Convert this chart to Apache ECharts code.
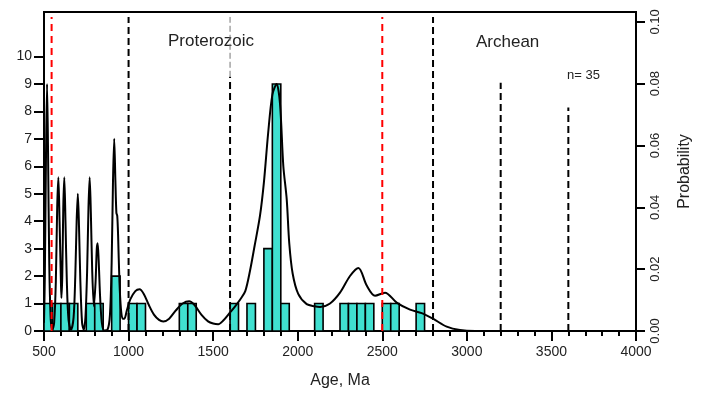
<!DOCTYPE html>
<html>
<head>
<meta charset="utf-8">
<script src="https://cdn.jsdelivr.net/npm/echarts@6/dist/echarts.min.js"></script>
<style>
html,body{margin:0;padding:0;background:#fff;}
#chart{width:704px;height:394px;}
</style>
</head>
<body>
<div id="chart"></div>
<script>
// ---- Data ----
const binWidth = 50;
const binStarts = [500,550,600,650,750,800,900,1000,1050,1300,1350,1600,1700,1800,1850,1900,2100,2250,2300,2350,2400,2500,2550,2700];
const binCounts = [1,1,1,1,1,1,2,1,1,1,1,1,1,3,9,1,1,1,1,1,1,1,1,1];

const curveAges = [500,505,512,518,524,531,540,550,560,570,578,585,592,600,603,608,614,620,627,635,645,660,675,685,693,700,707,715,725,735,745,755,763,770,777,785,795,805,812,817,823,832,842,855,875,890,900,908,915,922,928,933,938,946,955,965,975,990,1010,1040,1065,1090,1120,1150,1180,1205,1240,1280,1320,1358,1390,1430,1470,1500,1530,1560,1600,1630,1660,1690,1718,1745,1777,1800,1825,1850,1875,1895,1915,1935,1950,1970,2003,2053,2100,2132,2191,2250,2309,2359,2408,2457,2516,2585,2664,2733,2802,2881,2959,3050,3100];
const curveProb = [0.0027,0.0178,0.0577,0.0799,0.0577,0.0222,0.0036,0.0004,0.0027,0.0160,0.0400,0.0497,0.0355,0.0160,0.0107,0.0178,0.0400,0.0497,0.0355,0.0160,0.0036,0.0004,0.0044,0.0178,0.0355,0.0444,0.0337,0.0160,0.0027,0.0004,0.0044,0.0195,0.0400,0.0497,0.0382,0.0195,0.0080,0.0160,0.0266,0.0284,0.0231,0.0107,0.0027,0.0002,0.0004,0.0053,0.0222,0.0488,0.0622,0.0488,0.0382,0.0373,0.0311,0.0160,0.0071,0.0040,0.0040,0.0067,0.0102,0.0129,0.0135,0.0120,0.0084,0.0053,0.0036,0.0031,0.0040,0.0067,0.0089,0.0096,0.0084,0.0053,0.0031,0.0024,0.0022,0.0034,0.0060,0.0080,0.0102,0.0129,0.0195,0.0275,0.0373,0.0480,0.0639,0.0764,0.0799,0.0737,0.0533,0.0426,0.0284,0.0186,0.0120,0.0087,0.0080,0.0078,0.0089,0.0124,0.0178,0.0204,0.0147,0.0114,0.0124,0.0092,0.0069,0.0058,0.0039,0.0014,0.0003,0.0000,0.0000];

const boundaryAges = [545, 1000, 1600, 2500, 2800, 3200, 3600];
const countTicks = [0,1,2,3,4,5,6,7,8,9,10];
const probTicks = [0,0.02,0.04,0.06,0.08,0.10];
const xTickLabels = [500,1000,1500,2000,2500,3000,3500,4000];

// ---- Chart ----
const FONT = "'Liberation Sans', Arial, sans-serif";
const chart = echarts.init(document.getElementById('chart'), null, {renderer:'canvas'});

const histData = binStarts.map((s,i)=>[s, s+binWidth, binCounts[i]]);
const curveData = curveAges.map((a,i)=>[a, curveProb[i]]);

const lineSpecs = [
  {age: boundaryAges[0], from:0, to:11.44, color:'#ff0000', width:2, dash:[7,5]},
  {age: boundaryAges[1], from:0, to:11.44, color:'#000', width:2, dash:[7,4]},
  {age: boundaryAges[2], from:0, to:9.26, color:'#000', width:2, dash:[7,4]},
  {age: boundaryAges[2], from:9.26, to:11.44, color:'#777', width:1, dash:[6,3]},
  {age: boundaryAges[3], from:0, to:11.44, color:'#ff0000', width:2, dash:[7,5]},
  {age: boundaryAges[4], from:0, to:11.44, color:'#000', width:2, dash:[7,4]},
  {age: boundaryAges[5], from:0, to:9.04, color:'#000', width:2, dash:[7,4]},
  {age: boundaryAges[6], from:0, to:8.14, color:'#000', width:2, dash:[7,4]}
];

const series = [
  {
    type:'custom',
    xAxisIndex:0, yAxisIndex:0,
    data: histData,
    encode:{x:[0,1], y:2},
    z:2,
    renderItem: function(params, api){
      const p0 = api.coord([api.value(0), api.value(2)]);
      const p1 = api.coord([api.value(1), 0]);
      return {
        type:'rect',
        shape:{x:p0[0], y:p0[1], width:p1[0]-p0[0], height:p1[1]-p0[1]},
        style:{fill:'#40E0D0', stroke:'#000', lineWidth:1.6}
      };
    }
  },
  {
    type:'line',
    xAxisIndex:0, yAxisIndex:1,
    data: curveData,
    showSymbol:false, symbol:'none',
    smooth:0.3,
    lineStyle:{color:'#000', width:2},
    z:4,
    silent:true
  }
];
lineSpecs.forEach(s=>{
  series.push({
    type:'line', xAxisIndex:0, yAxisIndex:0,
    data:[[s.age, s.from],[s.age, s.to]],
    symbol:'none', silent:true, z:5,
    lineStyle:{color:s.color, width:s.width, type:s.dash}
  });
});

chart.setOption({
  animation:false,
  backgroundColor:'#fff',
  textStyle:{fontFamily:FONT},
  grid:{left:44, right:68, top:12, bottom:62, show:true, borderColor:'#000', borderWidth:2, backgroundColor:'transparent'},
  xAxis:{
    type:'value', min:500, max:4000, interval:500,
    name:'Age, Ma', nameLocation:'middle', nameGap:42,
    nameTextStyle:{fontSize:16, color:'#222', fontFamily:FONT},
    axisLine:{show:true, onZero:false, lineStyle:{color:'#000', width:2}},
    axisTick:{show:true, length:10, lineStyle:{color:'#000', width:2}},
    minorTick:{show:true, splitNumber:5, length:5, lineStyle:{color:'#000', width:2}},
    axisLabel:{color:'#222', fontSize:14, margin:14, fontFamily:FONT,
      formatter: v => xTickLabels.includes(v) ? String(v) : ''},
    splitLine:{show:false}
  },
  yAxis:[
    {
      type:'value', min:0, max:11.62, position:'left',
      axisLine:{show:true, lineStyle:{color:'#000', width:2}},
      axisTick:{show:true, length:10, customValues:countTicks, lineStyle:{color:'#000', width:2}},
      axisLabel:{color:'#222', fontSize:14, margin:12, customValues:countTicks, fontFamily:FONT},
      splitLine:{show:false}
    },
    {
      type:'value', min:0, max:0.1032, position:'right',
      name:'Probability', nameLocation:'middle', nameGap:41, nameRotate:90,
      nameTextStyle:{fontSize:16, color:'#222', fontFamily:FONT},
      axisLine:{show:true, lineStyle:{color:'#000', width:2}},
      axisTick:{show:true, length:9, customValues:probTicks, lineStyle:{color:'#000', width:2}},
      axisLabel:{color:'#222', fontSize:13, margin:13, rotate:90, customValues:probTicks, fontFamily:FONT,
        formatter: v => v.toFixed(2)},
      splitLine:{show:false}
    }
  ],
  graphic:[
    {type:'text', left:168, top:33, style:{text:'Proterozoic', font:'17px '+FONT, fill:'#222'}},
    {type:'text', left:476, top:34, style:{text:'Archean', font:'17px '+FONT, fill:'#222'}},
    {type:'text', left:567, top:69, style:{text:'n= 35', font:'13px '+FONT, fill:'#222'}}
  ],
  series: series
});
</script>
</body>
</html>
